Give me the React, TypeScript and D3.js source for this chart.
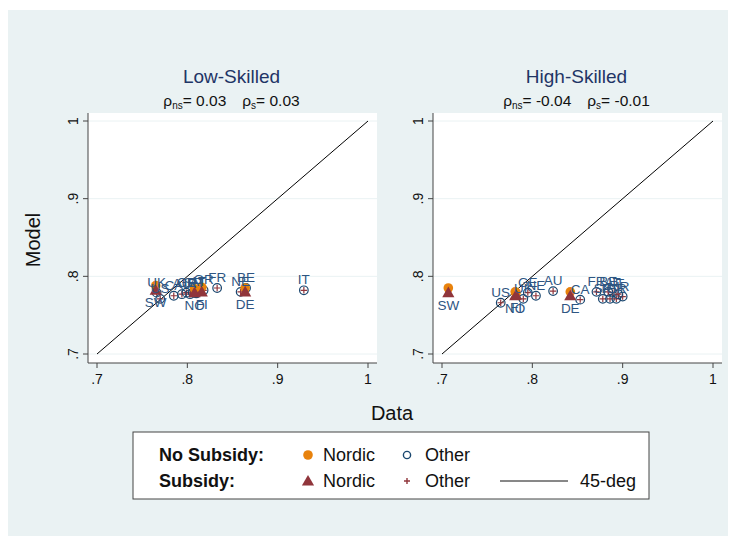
import * as d3 from "d3";

// countries that are not Nordic (hollow circle = no subsidy, plus = subsidy)
const otherCountries = ["UK", "US", "CA", "AU", "GE", "IR", "SP", "PT", "AT", "GR", "FR", "NE", "BE", "IT"];
const otherLowData = [0.766, 0.77, 0.785, 0.794, 0.799, 0.803, 0.806, 0.81, 0.812, 0.818, 0.833, 0.859, 0.865, 0.929];
const otherLowModel = [0.779, 0.771, 0.775, 0.777, 0.779, 0.777, 0.779, 0.778, 0.78, 0.782, 0.785, 0.78, 0.785, 0.782];
const otherHighData = [0.79, 0.765, 0.853, 0.823, 0.795, 0.9, 0.878, 0.886, 0.889, 0.893, 0.871, 0.804, 0.884, 0.895];
const otherHighModel = [0.771, 0.766, 0.77, 0.781, 0.779, 0.774, 0.771, 0.771, 0.779, 0.771, 0.78, 0.775, 0.78, 0.777];

// Nordic countries (filled circle = no subsidy, triangle = subsidy)
const nordicCountries = ["SW", "NO", "FI", "DE"];
const nordicLowData = [0.765, 0.808, 0.816, 0.864];
const nordicLowModelNoSub = [0.788, 0.784, 0.786, 0.785];
const nordicLowModelSub = [0.782, 0.779, 0.78, 0.78];
const nordicHighData = [0.707, 0.781, 0.782, 0.842];
const nordicHighModelNoSub = [0.785, 0.78, 0.779, 0.78];
const nordicHighModelSub = [0.779, 0.775, 0.776, 0.775];

const ticks = [0.7, 0.8, 0.9, 1];
const tickLabels = [".7", ".8", ".9", "1"];

const panelTitles = ["Low-Skilled", "High-Skilled"];
const rhoNs = ["0.03", "-0.04"];
const rhoS = ["0.03", "-0.01"];

const FONT = "'Liberation Sans', Arial, sans-serif";
const BG = "#eaf2f3";
const NAVY = "#1a476f";
const LABEL = "#2e5582";
const MAROON = "#90353b";
const ORANGE = "#e8820c";

const triangle = d3.symbol().type(d3.symbolTriangle).size(64)()!;

function Panel({ idx, left }: { idx: number; left: number }) {
  const low = idx === 0;
  const oData = low ? otherLowData : otherHighData;
  const oModel = low ? otherLowModel : otherHighModel;
  const nData = low ? nordicLowData : nordicHighData;
  const nNoSub = low ? nordicLowModelNoSub : nordicHighModelNoSub;
  const nSub = low ? nordicLowModelSub : nordicHighModelSub;

  const plotX0 = left;
  const plotX1 = left + 289;
  const plotY0 = 113;
  const plotY1 = 363;
  const x = d3.scaleLinear().domain([0.7, 1]).range([left + 9, left + 280]);
  const y = d3.scaleLinear().domain([0.7, 1]).range([354, 121]);
  const cx = (plotX0 + plotX1) / 2;
  const line = d3.line<number>().x((d) => x(d)).y((d) => y(d));

  return (
    <g fontFamily={FONT}>
      <text x={cx - 1} y={83} textAnchor="middle" fontSize={19} fill="#1f3566">
        {panelTitles[idx]}
      </text>
      <text x={cx - 1} y={106} textAnchor="middle" fontSize={15.5} fill="#111">
        ρ<tspan fontSize={10} dy={3}>ns</tspan>
        <tspan dy={-3}>= {rhoNs[idx]}</tspan>
        <tspan dx={16}>ρ</tspan>
        <tspan fontSize={10} dy={3}>s</tspan>
        <tspan dy={-3}>= {rhoS[idx]}</tspan>
      </text>
      <rect x={plotX0} y={plotY0} width={plotX1 - plotX0} height={plotY1 - plotY0} fill="#fff" />
      {ticks.map((t) => (
        <line key={"g" + t} x1={plotX0} x2={plotX1} y1={y(t)} y2={y(t)} stroke={BG} strokeWidth={1} />
      ))}
      <path d={line([0.7, 1])!} stroke="#000" strokeWidth={1} fill="none" />
      {/* other countries */}
      {otherCountries.map((c, i) => (
        <g key={"o" + c}>
          <circle cx={x(oData[i])} cy={y(oModel[i])} r={4.3} fill="none" stroke={NAVY} strokeWidth={1.2} />
          <path
            d={`M${x(oData[i]) - 3.2},${y(oModel[i])}h6.4M${x(oData[i])},${y(oModel[i]) - 3.2}v6.4`}
            stroke={MAROON}
            strokeWidth={1.2}
          />
        </g>
      ))}
      {nordicCountries.map((c, i) => (
        <g key={"n" + c}>
          <circle cx={x(nData[i])} cy={y(nNoSub[i])} r={4.8} fill={ORANGE} />
          <path d={triangle} transform={`translate(${x(nData[i])},${y(nSub[i]) + 1})`} fill={MAROON} />
        </g>
      ))}
      {otherCountries.map((c, i) => (
        <text key={"ol" + c} x={x(oData[i])} y={y(oModel[i]) - 6} textAnchor="middle" fontSize={13.5} fill={LABEL}>
          {c}
        </text>
      ))}
      {nordicCountries.map((c, i) => (
        <text key={"nl" + c} x={x(nData[i])} y={y(nSub[i]) + 17} textAnchor="middle" fontSize={13.5} fill={LABEL}>
          {c}
        </text>
      ))}
      <line x1={plotX0} x2={plotX0} y1={plotY0} y2={plotY1} stroke="#444" />
      <line x1={plotX0} x2={plotX1} y1={plotY1} y2={plotY1} stroke="#444" />
      {ticks.map((t, i) => (
        <g key={"t" + t}>
          <line x1={plotX0 - 5} x2={plotX0} y1={y(t)} y2={y(t)} stroke="#444" />
          <text
            transform={`translate(${plotX0 - 10},${y(t)}) rotate(-90)`}
            textAnchor="middle"
            fontSize={14}
            fill="#111"
          >
            {tickLabels[i]}
          </text>
          <line x1={x(t)} x2={x(t)} y1={plotY1} y2={plotY1 + 5} stroke="#444" />
          <text x={x(t)} y={plotY1 + 21} textAnchor="middle" fontSize={14} fill="#111">
            {tickLabels[i]}
          </text>
        </g>
      ))}
    </g>
  );
}

export default function App() {
  return (
    <svg
      width={736}
      height={544}
      style={{ position: "absolute", left: 0, top: 0, background: "#fff" }}
      fontFamily={FONT}
    >
      <rect x={8} y={10} width={720} height={526} fill={BG} />
      <Panel idx={0} left={88} />
      <Panel idx={1} left={433} />
      <text transform="translate(40,240) rotate(-90)" textAnchor="middle" fontSize={20} fill="#111">
        Model
      </text>
      <text x={392} y={420} textAnchor="middle" fontSize={20} fill="#111">
        Data
      </text>
      {/* legend */}
      <rect x={133} y={432} width={516} height={67} fill="#fff" stroke="#444" />
      <g fontSize={18} fill="#111">
        <text x={159} y={461} fontWeight="bold">No Subsidy:</text>
        <text x={159} y={487} fontWeight="bold">Subsidy:</text>
        <circle cx={308} cy={455} r={4.8} fill={ORANGE} />
        <text x={323} y={461}>Nordic</text>
        <circle cx={407} cy={455} r={3.6} fill="none" stroke={NAVY} strokeWidth={1.4} />
        <text x={425} y={461}>Other</text>
        <path d={triangle} transform="translate(308,482)" fill={MAROON} />
        <text x={323} y={487}>Nordic</text>
        <path d="M404,481h6M407,478v6" stroke={MAROON} strokeWidth={1.4} />
        <text x={425} y={487}>Other</text>
        <line x1={500} x2={568} y1={481} y2={481} stroke="#111" />
        <text x={580} y={487}>45-deg</text>
      </g>
    </svg>
  );
}
